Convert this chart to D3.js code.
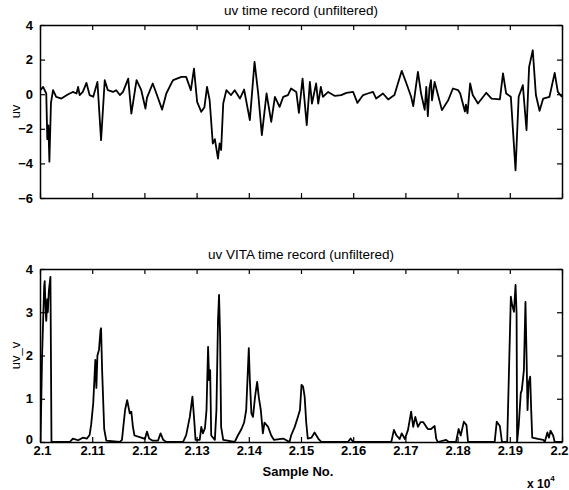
<!DOCTYPE html>
<html><head><meta charset="utf-8">
<script src="https://cdn.jsdelivr.net/npm/d3@7"></script>
<style>
body{margin:0;background:#fff;}
svg{display:block;}
text{font-family:"Liberation Sans",Arial,Helvetica,sans-serif;fill:#000;}
</style></head>
<body>
<svg id="c" width="569" height="490"></svg>
<script>
// ---- data ----
const uvSamples = [21000,21006,21012,21014,21016,21018,21021,21025,21031,21041,21054,21063,21070,21073,21076,21082,21089,21095,21102,21110,21117,21124,21130,21140,21146,21153,21159,21169,21175,21185,21194,21202,21205,21216,21223,21234,21242,21253,21255,21271,21280,21289,21295,21301,21309,21315,21320,21325,21331,21335,21341,21344,21347,21351,21357,21366,21373,21383,21391,21402,21411,21418,21425,21434,21443,21450,21459,21466,21475,21481,21491,21496,21503,21511,21517,21521,21529,21533,21538,21542,21552,21565,21577,21587,21600,21608,21619,21628,21638,21644,21657,21667,21679,21693,21702,21711,21715,21724,21730,21737,21740,21743,21746,21749,21751,21756,21770,21782,21791,21801,21805,21814,21816,21819,21824,21829,21839,21855,21865,21881,21887,21893,21902,21911,21917,21925,21932,21937,21944,21950,21957,21964,21976,21986,21992,22000];
const uvValues = [0.2,0.42,0.04,-2.6,-1.8,-3.9,-0.5,0.23,-0.15,-0.25,0.0,0.13,0.04,0.42,-0.05,0.13,0.65,-0.05,-0.15,0.71,-2.66,0.81,0.23,0.13,0.23,-0.05,0.13,0.9,-1.12,0.81,0.23,-0.83,-0.2,0.62,0.04,-0.89,0.04,0.71,0.81,1.0,1.0,0.23,1.48,-0.44,-1.02,-0.75,0.42,-0.35,-2.85,-2.6,-3.72,-2.85,-3.23,-0.54,0.23,-0.05,0.23,-0.25,0.27,-1.5,1.87,0.04,-2.37,0.04,-1.6,-0.15,-0.73,-0.15,-0.05,0.33,0.13,-1.08,0.9,-1.79,0.71,-0.54,0.62,-0.54,0.42,-0.15,0.13,-0.1,-0.05,0.08,0.13,-0.5,-0.05,0.04,0.13,-0.25,0.04,-0.3,-0.05,1.35,0.62,-0.15,-0.69,1.29,0.04,-0.9,0.42,-1.27,0.33,0.81,-0.35,0.71,-0.92,-0.35,0.33,0.23,0.04,-1.0,-0.6,-1.1,0.62,-0.05,-0.54,0.08,-0.25,-0.3,1.2,0.04,-0.15,-4.4,-0.15,0.52,-2.08,1.58,2.54,-0.05,-0.96,-0.25,-0.15,1.23,0.13,-0.15];

const vitaSamples = [21000,21001,21004,21008,21009,21011,21012,21014,21015,21017,21020,21022,21057,21063,21073,21082,21090,21095,21098,21102,21106,21108,21110,21113,21116,21117,21119,21123,21127,21153,21157,21163,21167,21172,21175,21178,21181,21194,21201,21205,21209,21216,21226,21231,21236,21242,21274,21280,21287,21292,21295,21298,21306,21309,21312,21316,21319,21322,21324,21326,21328,21335,21338,21341,21343,21345,21347,21351,21373,21379,21386,21391,21395,21400,21402,21405,21408,21412,21416,21419,21423,21427,21430,21437,21443,21448,21466,21478,21481,21488,21494,21498,21501,21504,21507,21510,21513,21520,21526,21533,21539,21590,21595,21600,21673,21678,21683,21689,21693,21699,21705,21711,21715,21719,21724,21729,21734,21740,21743,21749,21756,21759,21762,21778,21783,21797,21802,21806,21812,21817,21820,21871,21875,21881,21885,21895,21902,21904,21908,21911,21913,21914,21917,21921,21923,21927,21930,21932,21934,21936,21939,21941,21943,21954,21964,21967,21972,21975,21978,21983,21986,22000];
const vitaValues = [0,0,2.0,3.6,3.72,3.0,2.8,3.3,3.0,3.5,3.82,0,0,0.08,0.04,0.1,0.08,0.16,0.4,0.9,1.9,1.25,2.0,2.13,2.59,2.63,1.66,0.3,0.03,0,0.05,0.74,0.97,0.66,0.7,0.35,0.15,0.1,0.07,0.24,0.08,0.03,0.03,0.2,0.05,0,0,0.16,0.58,1.05,0.58,0.05,0.05,0.35,0.2,0.32,0.74,2.2,1.43,1.66,0.15,0.05,0.74,2.82,3.4,2.45,0.35,0.05,0,0.15,0.3,0.45,0.74,2.17,1.43,0.66,0.58,1.05,1.39,1.05,0.74,0.2,0.45,0.35,0.15,0.05,0.08,0,0.15,0.35,0.58,0.74,1.32,1.28,1.05,0.45,0.08,0.1,0.22,0.08,0,0,0.08,0,0,0.28,0.15,0.07,0.2,0.07,0.28,0.7,0.35,0.58,0.35,0.46,0.46,0.35,0.3,0.3,0.37,0.08,0,0.05,0,0,0.3,0.15,0.47,0.39,0,0,0.47,0.37,0,0,3.36,3.2,3.01,3.63,2.97,0,0.37,1.13,1.2,1.66,3.24,2.05,0.74,1.36,1.51,0.74,0.1,0.07,0.05,0,0.22,0.1,0.26,0.15,0,0];

const xTickValues = [21000,21100,21200,21300,21400,21500,21600,21700,21800,21900,22000];
const xTickLabels = ["2.1","2.11","2.12","2.13","2.14","2.15","2.16","2.17","2.18","2.19","2.2"];
const uvTicks = [4,2,0,-2,-4,-6];
const vitaTicks = [0,1,2,3,4];

// ---- drawing ----
const svg = d3.select("#c");
const L = 40, R = 562;
const x = d3.scaleLinear().domain([21000,22000]).range([L,R]);

function panel(top, bottom, ydom, yticks, xs, ys, title, ylabel, labelX, id){
  const y = d3.scaleLinear().domain(ydom).range([bottom, top]);
  const g = svg.append("g");
  g.append("clipPath").attr("id", id).append("rect")
    .attr("x", L).attr("y", top).attr("width", R-L).attr("height", bottom-top);
  const pts = xs.map((s,i)=>[s, ys[i]]);
  g.append("path").datum(pts)
    .attr("clip-path", `url(#${id})`)
    .attr("fill","none").attr("stroke","#000").attr("stroke-width",1.8)
    .attr("stroke-linejoin","round")
    .attr("d", d3.line().x(d=>x(d[0])).y(d=>y(d[1])));
  const tl = 5;
  g.append("g").attr("transform",`translate(0,${bottom})`)
    .call(d3.axisBottom(x).tickValues(xTickValues).tickSizeInner(-tl).tickSizeOuter(0).tickPadding(4)
      .tickFormat((d,i)=> labelX ? xTickLabels[i] : ""))
    .call(a=>{a.select(".domain").attr("stroke-width",1.5);
      a.selectAll("text").attr("font-size",13).attr("font-weight","bold")
        .attr("text-anchor",(d,i)=> i===xTickValues.length-1 ? "end" : "middle")
        .attr("dx",(d,i)=> i===xTickValues.length-1 ? 6 : (i===0 ? 2 : 0));});
  g.append("g").attr("transform",`translate(0,${top})`)
    .call(d3.axisTop(x).tickValues(xTickValues).tickSizeInner(-tl).tickSizeOuter(0).tickFormat(""))
    .call(a=>a.select(".domain").attr("stroke-width",1.5));
  g.append("g").attr("transform",`translate(${L},0)`)
    .call(d3.axisLeft(y).tickValues(yticks).tickSizeInner(-tl).tickSizeOuter(0).tickPadding(7).tickFormat(d3.format("d")))
    .call(a=>{a.select(".domain").attr("stroke-width",1.5);
      a.selectAll("text").attr("font-size",13).attr("font-weight","bold")
        .attr("dy",d=> (labelX && d===0) ? "0.1em" : "0.32em");});
  g.append("g").attr("transform",`translate(${R},0)`)
    .call(d3.axisRight(y).tickValues(yticks).tickSizeInner(-tl).tickSizeOuter(0).tickFormat(""))
    .call(a=>a.select(".domain").attr("stroke-width",1.5));
  g.selectAll(".tick line").attr("stroke-width",1.2);
  g.append("text").attr("x",(L+R)/2).attr("y",top-10).attr("text-anchor","middle")
    .attr("font-size",13.5).text(title);
  g.append("text").attr("transform",`translate(20,${(top+bottom)/2}) rotate(-90)`)
    .attr("text-anchor","middle").attr("font-size",13).text(ylabel);
}

panel(25, 198, [-6,4], uvTicks, uvSamples, uvValues, "uv time record (unfiltered)", "uv", false, "clipTop");
panel(269, 442, [0,4], vitaTicks, vitaSamples, vitaValues, "uv VITA time record (unfiltered)", "uv_v", true, "clipBot");

svg.append("text").attr("x",298).attr("y",476).attr("text-anchor","middle")
  .attr("font-size",13).attr("font-weight","bold").text("Sample No.");
const ex = svg.append("text").attr("x",527).attr("y",488).attr("font-size",12).attr("font-weight","bold");
ex.append("tspan").text("x 10");
ex.append("tspan").attr("dy",-7).attr("font-size",8).text("4");
</script>
</body></html>
